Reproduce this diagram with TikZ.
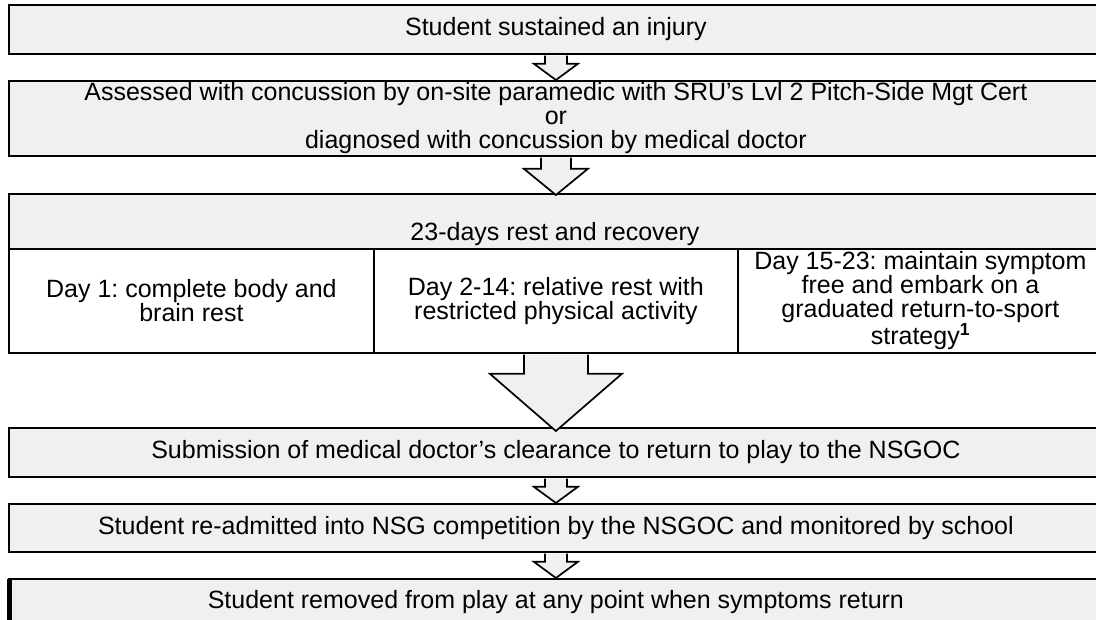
\documentclass[tikz,border=0pt]{standalone}
\usepackage{fontspec}
\setmainfont{Liberation Sans}
\usetikzlibrary{calc}
\definecolor{boxgray}{HTML}{F0F0F0}
\frenchspacing
\newcommand{\blockarrow}[6]{%
  \draw[barrow] let \p1=(#1.south), \p2=(#2.north) in
    (\x1-#3pt,\y1-0.9pt) -- (\x1-#3pt,\y1-#5pt) -- (\x1-#4pt,\y1-#5pt)
    -- (\x1,\y2-#6pt) -- (\x1+#4pt,\y1-#5pt) -- (\x1+#3pt,\y1-#5pt)
    -- (\x1+#3pt,\y1-0.9pt);}
\begin{document}
\begin{tikzpicture}[x=1pt,y=-1pt,
  font=\fontsize{25}{24}\selectfont\frenchspacing,
  box/.style={draw, line width=1.8pt, fill=boxgray, minimum width=1094pt,
    inner sep=0pt, align=center, anchor=north west},
  inbox/.style={draw, line width=1.8pt, fill=white, inner sep=0pt,
    align=center, anchor=north west, minimum height=104pt},
  barrow/.style={draw, line width=1.7pt, fill=boxgray, line join=miter}]
\useasboundingbox (0,0) rectangle (1096,620);
\fill[white] (0,0) rectangle (1096,620);
\clip (0,0) rectangle (1096,620);

\node[box, minimum height=49pt] (b1) at (8,4) {Student sustained an injury};
\node[box, minimum height=75pt] (b2) at (8,80)
  {Assessed with concussion by on-site paramedic with SRU’s Lvl 2 Pitch-Side Mgt Cert\\or\\diagnosed with concussion by medical doctor};
\node[box, minimum height=159pt] (b3) at (8,193) {};
\node (t3) at (555,234) {23-days rest and recovery};
\node[inbox, minimum width=365pt] (d1) at (8,248) {Day 1: complete body and\\brain rest};
\node[inbox, minimum width=364pt] (d2) at (373,248) {Day 2-14: relative rest with\\restricted physical activity};
\node[inbox, minimum width=365pt] (d3) at (737,248)
  {Day 15-23: maintain symptom\\free and embark on a\\graduated return-to-sport\\strategy\textsuperscript{\textbf{1}}};
\node[box, minimum height=49pt] (b4) at (8,427)
  {Submission of medical doctor’s clearance to return to play to the NSGOC};
\node[box, minimum height=48pt] (b5) at (8,503)
  {Student re-admitted into NSG competition by the NSGOC and monitored by school};
\node[box, minimum height=46pt] (b6) at (8,578)
  {Student removed from play at any point when symptoms return};
\draw[line width=4.5pt] ($(b6.north west)+(1.3,1)$) -- ($(b6.south west)+(1.3,0)$);

\blockarrow{b1}{b2}{11}{22}{9}{0}
\blockarrow{b2}{b3}{15}{32}{12}{2}
\blockarrow{d2}{b4}{32}{66}{20}{4}
\blockarrow{b4}{b5}{11}{22}{9}{0}
\blockarrow{b5}{b6}{11}{22}{9}{0}
\end{tikzpicture}
\end{document}
